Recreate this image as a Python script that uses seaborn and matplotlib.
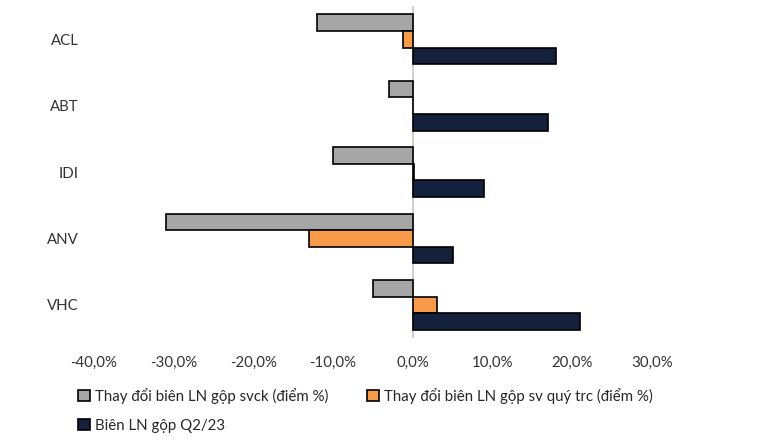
import matplotlib
matplotlib.use('Agg')
import matplotlib.pyplot as plt
import matplotlib.ticker as mticker
import pandas as pd
import seaborn as sns

# Values (percent)
companies = ['ACL', 'ABT', 'IDI', 'ANV', 'VHC']
series_names = [
    'Thay đổi biên LN gộp svck (điểm %)',
    'Thay đổi biên LN gộp sv quý trc (điểm %)',
    'Biên LN gộp Q2/23',
]
yoy_change = [-12.0, -3.0, -10.0, -31.0, -5.0]
qoq_change = [-1.2, 0.1, 0.2, -13.0, 3.0]
gross_margin = [18.0, 17.0, 9.0, 5.0, 21.0]
colors = ['#a6a6a6', '#f79a4a', '#14213d']

rows = []
for name, vals in zip(series_names, [yoy_change, qoq_change, gross_margin]):
    for c, v in zip(companies, vals):
        rows.append({'company': c, 'series': name, 'value': v})
df = pd.DataFrame(rows)

sns.set_style('white')
plt.rcParams['font.family'] = ['Lato', 'DejaVu Sans']

fig = plt.figure(figsize=(7.65, 4.42), dpi=100)
ax = fig.add_axes([0.1229, 0.235, 0.729, 0.751])

sns.barplot(data=df, x='value', y='company', hue='series', order=companies,
            hue_order=series_names, palette=colors, orient='h', width=0.75,
            saturation=1, edgecolor='black', linewidth=1.2, ax=ax)

ax.set_xlim(-40, 30)
ax.set_ylim(4.5, -0.5)
ax.axvline(0, color='#c8c8c8', linewidth=1.2, zorder=0)
ax.xaxis.set_major_locator(mticker.MultipleLocator(10))
ax.xaxis.set_major_formatter(mticker.FuncFormatter(
    lambda v, p: f'{v:.1f}%'.replace('.', ',')))
ax.tick_params(axis='both', length=0, labelsize=10.8, colors='#333333')
ax.tick_params(axis='y', pad=11)
ax.tick_params(axis='x', pad=13)
ax.set_xlabel('')
ax.set_ylabel('')
for s in ax.spines.values():
    s.set_visible(False)

# row-wise legend order: grey, orange on first row, navy on the second
handles, labels = ax.get_legend_handles_labels()
order = [0, 2, 1]
ax.legend([handles[i] for i in order], [labels[i] for i in order],
          loc='upper left', bbox_to_anchor=(-0.039, -0.132),
          ncol=2, frameon=False, fontsize=10.8, handlelength=0.8,
          handleheight=0.8, handletextpad=0.3, columnspacing=2.6,
          labelspacing=1.0, borderaxespad=0)

fig.savefig('out.png', dpi=100)
